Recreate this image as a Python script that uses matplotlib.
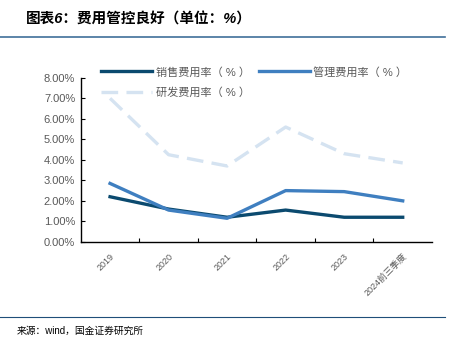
import matplotlib
matplotlib.use("Agg")
import matplotlib.pyplot as plt
from matplotlib.ticker import FuncFormatter

plt.rcParams['font.family'] = ['Liberation Sans', 'Noto Sans CJK SC', 'DejaVu Sans']

# data
years = ['2019', '2020', '2021', '2022', '2023', '2024前三季度']
sales_rate = [2.2, 1.6, 1.2, 1.55, 1.2, 1.2]
admin_rate = [2.85, 1.55, 1.15, 2.5, 2.45, 2.0]
rd_rate = [7.0, 4.25, 3.7, 5.6, 4.3, 3.85]

fig = plt.figure(figsize=(4.67, 3.49), dpi=100)
ax = fig.add_axes([0.173, 0.307, 0.752, 0.47])

x = list(range(len(years)))
l1, = ax.plot(x, sales_rate, color='#0b4a6f', lw=2.4, label='销售费用率（ % ）')
l2, = ax.plot(x, admin_rate, color='#3f7fc0', lw=2.4, label='管理费用率（ % ）')
l3, = ax.plot(x, rd_rate, color='#d5e3f1', lw=2.4, ls=(0, (5, 2.5)), label='研发费用率（ % ）')

ax.set_xlim(-0.5, len(years) - 0.5)
ax.set_ylim(0, 8)
ax.set_yticks(range(0, 9))
ax.yaxis.set_major_formatter(FuncFormatter(lambda v, p: f'{v:.2f}%'))
ax.set_xticks([i + 0.5 for i in range(len(years) - 1)], minor=False)
ax.set_xticklabels([])
ax.set_xticks(x, minor=True)
ax.set_xticklabels(years, minor=True, rotation=45, ha='right', va='top',
                   rotation_mode='anchor', fontsize=6.5, color='#595959')
ax.tick_params(axis='x', which='minor', length=0, pad=7)
ax.tick_params(axis='x', which='major', direction='in', length=3, width=0.8)
ax.tick_params(axis='y', direction='in', length=3, width=0.8, labelsize=8,
               labelcolor='#595959', pad=4)
for s in ['top', 'right']:
    ax.spines[s].set_visible(False)
for s in ['left', 'bottom']:
    ax.spines[s].set_linewidth(1.0)
    ax.spines[s].set_color('black')

ax.legend([l1, l3, l2], [l1.get_label(), l3.get_label(), l2.get_label()],
          ncol=2, frameon=False, fontsize=8, loc='upper left',
          bbox_to_anchor=(0.03, 1.13), handlelength=4.6, columnspacing=0.8,
          labelspacing=0.85, handletextpad=0.3, labelcolor='#595959')

fig.text(0.055, 0.945, '图表6：费用管控良好（单位：%）', fontsize=10.5,
         fontweight='bold', color='black', style='italic', va='center')
fig.add_artist(plt.Line2D([0, 0.953], [0.895, 0.895], color='#3f6f9a', lw=1.2))
fig.add_artist(plt.Line2D([0, 0.953], [0.092, 0.092], color='#1f4e79', lw=0.8))
fig.text(0.035, 0.052, '来源：wind，国金证券研究所', fontsize=7, color='black',
         va='center')

fig.savefig('out.png', dpi=100)
